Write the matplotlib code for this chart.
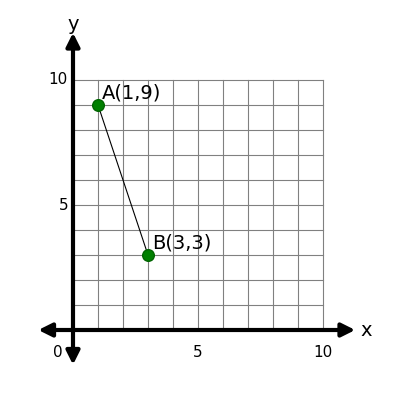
import matplotlib
matplotlib.use("Agg")
import matplotlib.pyplot as plt

labels = ["A(1,9)", "B(3,3)"]
xs = [1, 3]
ys = [9, 3]
xticks = [5, 10]
yticks = [5, 10]

fig = plt.figure(figsize=(4, 4), dpi=100)
ax = fig.add_axes([0, 0, 1, 1])
ax.set_xlim(-2.92, 13.08)
ax.set_ylim(-2.8, 13.2)
ax.axis("off")

for i in range(11):
    ax.plot([i, i], [0, 10], color="gray", lw=0.8, zorder=1)
    ax.plot([0, 10], [i, i], color="gray", lw=0.8, zorder=1)

ax.annotate("", xy=(11.4, 0), xytext=(-1.5, 0),
            arrowprops=dict(arrowstyle="<|-|>", color="black", lw=3, mutation_scale=20), zorder=3)
ax.annotate("", xy=(0, 12.0), xytext=(0, -1.5),
            arrowprops=dict(arrowstyle="<|-|>", color="black", lw=3, mutation_scale=20), zorder=3)
ax.text(11.5, 0, "x", fontsize=14, va="center", ha="left")
ax.text(0, 12.2, "y", fontsize=14, va="center", ha="center")

ax.plot(xs, ys, color="black", lw=0.8, zorder=4)
ax.scatter(xs, ys, s=70, color="green", edgecolor="darkgreen", zorder=5)
for x, y, l in zip(xs, ys, labels):
    ax.text(x + 0.15, y + 0.1, l, fontsize=14, va="bottom", ha="left", zorder=6)

for t in xticks:
    ax.text(t, -0.6, str(t), fontsize=11, ha="center", va="top")
for t in yticks:
    ax.text(-0.2, t, str(t), fontsize=11, ha="right", va="center")
ax.text(-0.4, -0.6, "0", fontsize=11, ha="right", va="top")

fig.savefig("out.png")
